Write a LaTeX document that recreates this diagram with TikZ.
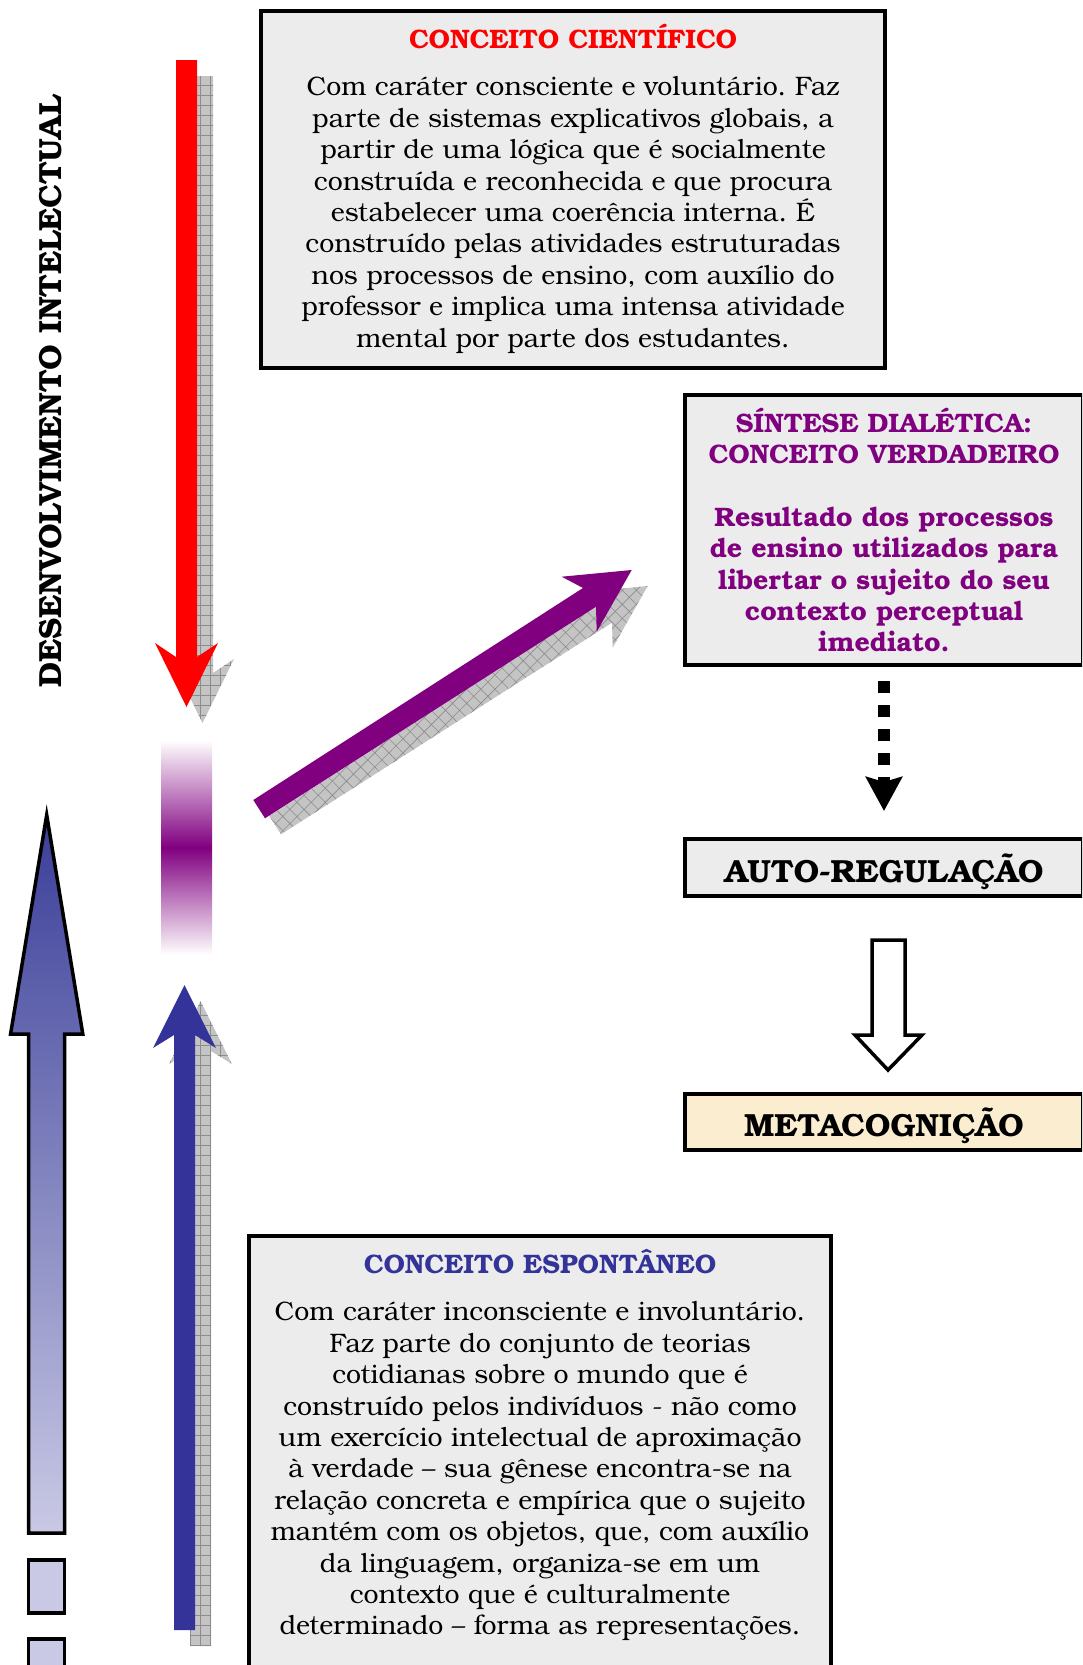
\documentclass[tikz,border=0pt]{standalone}
\usepackage{fontspec}
\setmainfont{TeX Gyre Bonum}
\usepackage{xcolor}
\usepackage{tikz}
\usetikzlibrary{positioning}
\usetikzlibrary{arrows.meta}
\usetikzlibrary{patterns.meta}
\frenchspacing

\definecolor{boxgray}{RGB}{236,236,236}
\definecolor{cream}{RGB}{251,238,208}
\definecolor{titlered}{RGB}{255,0,0}
\definecolor{indigo}{RGB}{51,51,153}
\definecolor{sintese}{RGB}{128,0,128}
\definecolor{shadowgray}{RGB}{196,196,196}
\definecolor{hatchgray}{RGB}{140,140,140}
\definecolor{arrowtop}{RGB}{58,62,152}
\definecolor{arrowbottom}{RGB}{201,201,229}

\begin{document}
\begin{tikzpicture}[x=1pt, y=1pt,
  box/.style={draw, rectangle, line width=4pt, fill=boxgray},
  bodytext/.style={align=center, inner sep=0pt, font=\fontsize{26.7}{31.4}\selectfont},
  titletext/.style={inner sep=0pt, font=\bfseries\fontsize{26.7}{31.4}\selectfont},
  bigtext/.style={font=\bfseries\fontsize{32}{36}\selectfont, text height=29pt, text depth=0pt},
  shadow/.style={fill=shadowgray, postaction={pattern={Hatch[angle=#1, distance=10pt, line width=0.6pt]}, pattern color=hatchgray}},
  shadow/.default=0]
\useasboundingbox (0,0) rectangle (1082,-1665);
\clip (0,0) rectangle (1082,-1665);

% side label and the big outlined arrow
\node at (51,-391.6) [rotate=90, font=\bfseries\fontsize{32}{36}\selectfont, name=Desenvolvimento]{DESENVOLVIMENTO INTELECTUAL};
\shadedraw[top color=arrowtop, bottom color=arrowbottom, line width=3.5pt, line join=miter]
  (28.6,-1533) -- (28.6,-1034) -- (10.6,-1034) -- (46.7,-815) -- (82.8,-1034) -- (64.7,-1034) -- (64.7,-1533) -- cycle;
\draw[fill=arrowbottom, line width=3.5pt] (28.6,-1560) rectangle (64.7,-1613);
\draw[fill=arrowbottom, line width=3.5pt] (28.6,-1639) rectangle (64.7,-1692);

% shadows
\fill[shadow] (192,-76) -- (192,-673) -- (171,-659) -- (202.5,-723) -- (234,-659) -- (213,-673) -- (213,-76) -- cycle;
\fill[shadow] (190,-1646) -- (190,-1051) -- (169,-1064) -- (200.5,-1001) -- (232,-1064) -- (211,-1051) -- (211,-1646) -- cycle;
\fill[shadow=45] (269.3,-816) -- (599,-604) -- (577.7,-592.7) -- (647.7,-586) -- (612.7,-647.7) -- (612,-622.7) -- (281,-834.3) -- cycle;

% red, blue and purple arrows
\fill[titlered] (176,-60) -- (176,-657) -- (155,-643) -- (186.5,-707) -- (218,-643) -- (197,-657) -- (197,-60) -- cycle;
\fill[indigo] (174,-1630) -- (174,-1035) -- (153,-1048) -- (184.5,-985) -- (216,-1048) -- (195,-1035) -- (195,-1630) -- cycle;
\fill[sintese] (253.3,-800) -- (583,-588) -- (561.7,-576.7) -- (631.7,-570) -- (596.7,-631.7) -- (596,-606.7) -- (265,-818.3) -- cycle;
\shade[top color=white, bottom color=white, middle color=sintese] (161,-740) rectangle (212,-955);

% conceito cientifico
\node at (573,-189.5) [box, name=Cientifico, minimum width=624pt, minimum height=357pt]{};
\node [below=15pt of Cientifico.north, titletext, text=titlered] (CientificoTitle) {CONCEITO CIENTÍFICO};
\node [below=28pt of CientificoTitle.base, bodytext] (CientificoText) {Com caráter consciente e voluntário. Faz\\parte de sistemas explicativos globais, a\\partir de uma lógica que é socialmente\\construída e reconhecida e que procura\\estabelecer uma coerência interna. É\\construído pelas atividades estruturadas\\nos processos de ensino, com auxílio do\\professor e implica uma intensa atividade\\mental por parte dos estudantes.};

% conceito espontaneo
\node at (540,-1468) [box, name=Espontaneo, minimum width=582pt, minimum height=464pt]{};
\node [below=15pt of Espontaneo.north, titletext, text=indigo] (EspontaneoTitle) {CONCEITO ESPONTÂNEO};
\node [below=28pt of EspontaneoTitle.base, bodytext] (EspontaneoText) {Com caráter inconsciente e involuntário.\\Faz parte do conjunto de teorias\\cotidianas sobre o mundo que é\\construído pelos indivíduos - não como\\um exercício intelectual de aproximação\\à verdade – sua gênese encontra-se na\\relação concreta e empírica que o sujeito\\mantém com os objetos, que, com auxílio\\da linguagem, organiza-se em um\\contexto que é culturalmente\\determinado – forma as representações.};

% sintese, auto-regulacao, metacognicao
\node at (884,-530) [box, name=Sintese, minimum width=398pt, minimum height=270pt]{};
\node at (Sintese) [titletext, align=center, text=sintese] (SinteseText) {SÍNTESE DIALÉTICA:\\CONCEITO VERDADEIRO\\[31.4pt]Resultado dos processos\\de ensino utilizados para\\libertar o sujeito do seu\\contexto perceptual\\imediato.};
\node at (884,-867.5) [box, bigtext, name=Auto, minimum width=398pt, minimum height=57pt]{AUTO-REGULAÇÃO};
\node at (884,-1122) [box, bigtext, fill=cream, name=Meta, minimum width=398pt, minimum height=56pt]{METACOGNIÇÃO};

\draw[line width=12pt, dash pattern=on 12pt off 12pt, -{Stealth[length=34pt, width=36pt, inset=5pt]}, shorten <=14pt, shorten >=26pt] (Sintese.south) -- (Auto.north);
\draw[fill=white, line width=3.5pt, line join=miter] (872,-940) -- (872,-1035) -- (855,-1035) -- (888,-1070) -- (922,-1035) -- (905,-1035) -- (905,-940) -- cycle;
\end{tikzpicture}
\end{document}
